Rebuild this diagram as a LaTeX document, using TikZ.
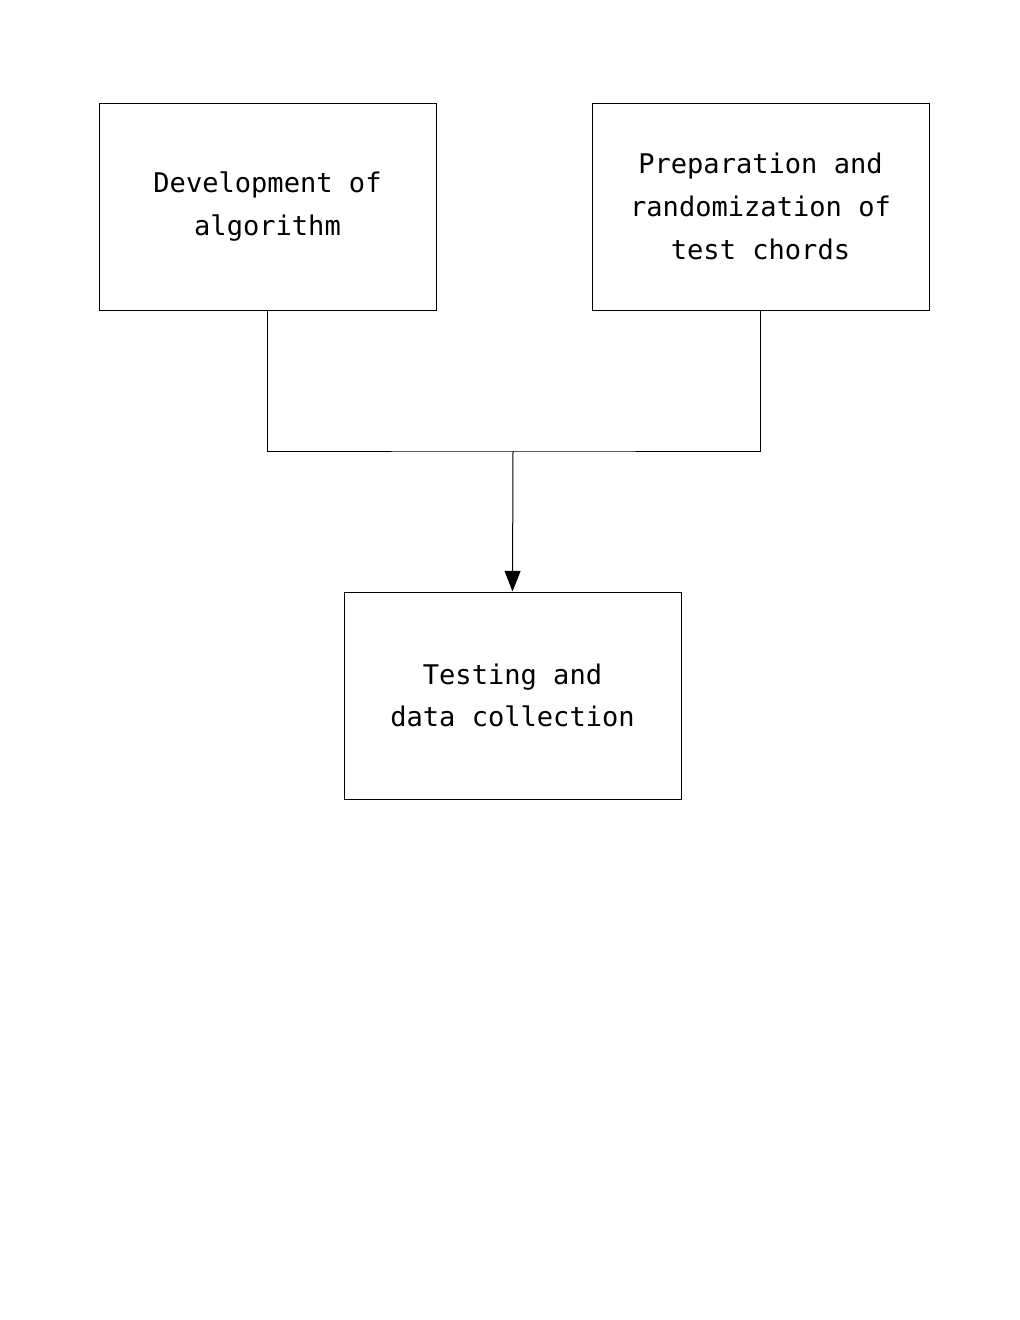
\documentclass[tikz,border=0pt]{standalone}
\usepackage{fontspec}
\setmainfont{DejaVu Sans Mono}
\usetikzlibrary{arrows.meta}
\tikzset{
  box/.style={draw, line width=0.75pt, minimum width=337*0.75pt, minimum height=207*0.75pt, align=center, inner sep=0pt,
    font=\fontsize{20.3pt}{32pt}\selectfont},
  conn/.style={line width=0.75pt}
}
\begin{document}
\begin{tikzpicture}[x=0.75pt,y=-0.75pt]
\useasboundingbox (0,0) rectangle (1020,1320);
\node[box] (a) at (267.5,206.5) {Development of\\algorithm};
\node[box] (b) at (760.5,206.5) {Preparation and\\randomization of\\test chords};
\node[box] (c) at (512.5,695.5) {Testing and\\data collection};
\coordinate (j) at (513,451);
\draw[conn] (a.south) |- (j) -| (b.south);
\draw[conn,-{Triangle[length=15.5pt,width=12pt]}] (j) -- (c.north);
\end{tikzpicture}
\end{document}
